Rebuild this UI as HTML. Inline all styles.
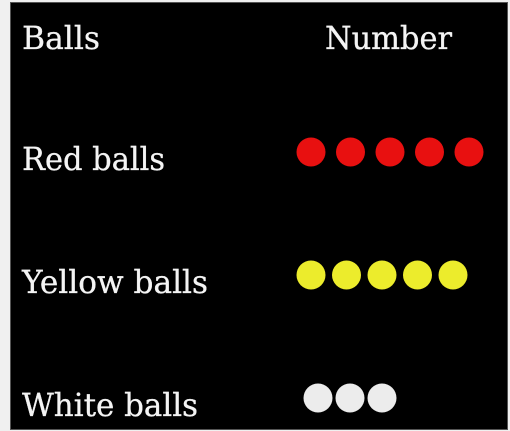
<!DOCTYPE html>
<html><head><meta charset="utf-8"><style>
html,body{margin:0;padding:0;background:#f0f0f0;width:510px;height:431px;overflow:hidden}
#panel{position:absolute;left:10px;top:2px;width:496px;height:426px;background:#000;border:1px solid #555}
svg{position:absolute;left:0;top:0}
text{font-family:"DejaVu Serif","Liberation Serif",serif;fill:#f4f4f4;font-size:32px;stroke:#f4f4f4;stroke-width:0.3}
</style></head><body>
<div id="panel"></div>
<svg id="chart" width="510" height="431">
<text x="22" y="49" textLength="78" lengthAdjust="spacingAndGlyphs">Balls</text>
<text x="325" y="49" textLength="127" lengthAdjust="spacingAndGlyphs">Number</text>
</svg>
<script>
const categories = ["Red balls", "Yellow balls", "White balls"];
const counts = [5, 5, 3];
const colors = ["#e81010", "#ecec2c", "#ececec"];
const labelWidths = [143, 186, 176];
const svg = document.getElementById('chart');
const NS = 'http://www.w3.org/2000/svg';
const rowY = i => 152 + i * 123;
const startX = [311, 311, 318];
const colX = (i, j) => startX[i] + j * (i === 2 ? 32 : (i === 1 ? 35.5 : 39.5));
categories.forEach((c, i) => {
  const t = document.createElementNS(NS, 'text');
  t.setAttribute('x', 22);
  t.setAttribute('y', rowY(i) + 18);
  t.setAttribute('textLength', labelWidths[i]);
  t.setAttribute('lengthAdjust', 'spacingAndGlyphs');
  t.textContent = c;
  
  
  svg.appendChild(t);
  for (let j = 0; j < counts[i]; j++) {
    const b = document.createElementNS(NS, 'circle');
    b.setAttribute('cx', colX(i, j));
    b.setAttribute('cy', rowY(i));
    b.setAttribute('r', 14.5);
    b.setAttribute('fill', colors[i]);
    
    
    svg.appendChild(b);
  }
});
</script>
</body></html>
